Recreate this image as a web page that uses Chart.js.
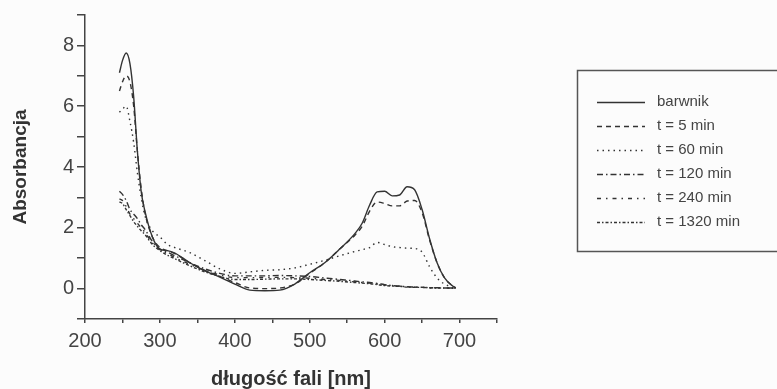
<!DOCTYPE html>
<html>
<head>
<meta charset="utf-8">
<script src="https://cdn.jsdelivr.net/npm/chart.js@4.4.0/dist/chart.umd.min.js"></script>
<style>
  html, body { margin: 0; padding: 0; background: #fcfcfc; }
  #wrap { width: 777px; height: 389px; }
</style>
</head>
<body>
<div id="wrap"><canvas id="graph" width="777" height="389"></canvas></div>
<script>
const wavelengths = [246, 250, 255, 260, 265, 270, 275, 280, 290, 300, 310, 320, 340, 360, 380, 400, 420, 440, 460, 480, 500, 520, 540, 560, 570, 580, 590, 600, 610, 620, 630, 640, 650, 660, 670, 680, 690, 695];

const barwnik = [7.1, 7.5, 7.75, 7.4, 6.3, 4.5, 3.2, 2.55, 1.7, 1.3, 1.25, 1.17, 0.85, 0.58, 0.38, 0.15, -0.05, -0.07, -0.05, 0.15, 0.52, 0.85, 1.3, 1.8, 2.15, 2.75, 3.18, 3.2, 3.05, 3.08, 3.35, 3.25, 2.6, 1.64, 0.85, 0.35, 0.1, 0.03];
const t5 = [6.5, 6.8, 7.0, 6.8, 6.0, 4.5, 3.3, 2.5, 1.7, 1.35, 1.25, 1.15, 0.85, 0.6, 0.4, 0.2, 0.02, 0.0, 0.02, 0.15, 0.5, 0.85, 1.3, 1.75, 2.05, 2.55, 2.85, 2.8, 2.72, 2.72, 2.88, 2.9, 2.5, 1.6, 0.85, 0.35, 0.1, 0.03];
const t60 = [5.8, 5.9, 6.0, 5.5, 4.8, 3.8, 3.0, 2.4, 1.9, 1.7, 1.45, 1.35, 1.18, 0.92, 0.65, 0.5, 0.55, 0.6, 0.62, 0.68, 0.8, 0.93, 1.08, 1.22, 1.28, 1.35, 1.52, 1.45, 1.38, 1.35, 1.33, 1.32, 1.2, 0.72, 0.35, 0.15, 0.05, 0.02];
const t120 = [3.2, 3.1, 2.9, 2.6, 2.45, 2.3, 2.1, 1.95, 1.55, 1.3, 1.2, 1.08, 0.85, 0.65, 0.5, 0.42, 0.42, 0.42, 0.43, 0.42, 0.4, 0.35, 0.3, 0.25, 0.22, 0.2, 0.17, 0.13, 0.1, 0.08, 0.06, 0.05, 0.04, 0.03, 0.03, 0.02, 0.02, 0.01];
const t240 = [2.95, 2.9, 2.7, 2.45, 2.3, 2.15, 2.0, 1.85, 1.5, 1.28, 1.15, 1.02, 0.8, 0.6, 0.45, 0.36, 0.36, 0.37, 0.37, 0.36, 0.34, 0.3, 0.27, 0.22, 0.2, 0.18, 0.15, 0.12, 0.1, 0.08, 0.06, 0.05, 0.04, 0.03, 0.03, 0.02, 0.02, 0.01];
const t1320 = [2.85, 2.8, 2.6, 2.4, 2.2, 2.05, 1.9, 1.78, 1.45, 1.25, 1.1, 0.98, 0.75, 0.55, 0.4, 0.3, 0.3, 0.31, 0.32, 0.32, 0.3, 0.27, 0.24, 0.2, 0.18, 0.16, 0.13, 0.1, 0.08, 0.07, 0.05, 0.04, 0.04, 0.03, 0.02, 0.02, 0.01, 0.01];

const seriesLabels = ['barwnik', 't = 5 min', 't = 60 min', 't = 120 min', 't = 240 min', 't = 1320 min'];
const series = [barwnik, t5, t60, t120, t240, t1320];
const dashes = [[], [5, 4], [1.5, 4], [6, 3, 1.5, 3], [4, 5, 1.5, 5], [3, 2, 1.5, 2]];

const ink = '#333';
const textInk = '#444';
const fontFamily = '"Liberation Sans", Arial, sans-serif';

const datasets = series.map((vals, i) => ({
  label: seriesLabels[i],
  data: vals.map((v, j) => ({ x: wavelengths[j], y: v })),
  borderColor: ink,
  borderWidth: 1.4,
  borderDash: dashes[i],
  pointRadius: 0,
  fill: false,
  cubicInterpolationMode: 'monotone'
}));

// legend box on the right, drawn from the dataset labels and styles
const boxLegend = {
  id: 'boxLegend',
  afterDraw(chart) {
    const c = chart.ctx;
    c.save();
    c.strokeStyle = '#555';
    c.lineWidth = 1.5;
    c.setLineDash([]);
    c.strokeRect(577.5, 70.5, 230, 181);
    chart.data.datasets.forEach((ds, i) => {
      const y = 102 + i * 24;
      c.strokeStyle = ink;
      c.lineWidth = 1.3;
      c.setLineDash(ds.borderDash);
      c.beginPath();
      c.moveTo(597, y + 0.5);
      c.lineTo(645, y + 0.5);
      c.stroke();
      c.setLineDash([]);
      c.fillStyle = textInk;
      c.font = '15px ' + fontFamily;
      c.textBaseline = 'middle';
      c.textAlign = 'left';
      c.fillText(ds.label, 657, y);
    });
    c.restore();
  }
};

const ctx = document.getElementById('graph').getContext('2d');

new Chart(ctx, {
  type: 'line',
  data: { datasets: datasets },
  options: {
    responsive: false,
    animation: false,
    layout: { padding: { left: 0, right: 280, top: 13, bottom: 0 } },
    plugins: { legend: { display: false }, tooltip: { enabled: false } },
    scales: {
      x: {
        type: 'linear',
        min: 200,
        max: 750,
        afterFit: (s) => { s.height = 70; },
        border: { display: true, color: '#444', width: 1.5 },
        grid: { drawOnChartArea: false, drawTicks: true, tickLength: 4, color: '#444', lineWidth: 1.5 },
        ticks: {
          stepSize: 50,
          autoSkip: false,
          maxRotation: 0,
          padding: 6,
          color: textInk,
          font: { family: fontFamily, size: 20 },
          callback: (v) => (v % 100 === 0 && v < 750) ? v : ''
        },
        title: {
          display: true,
          text: 'długość fali [nm]',
          color: '#333',
          padding: { top: 0, bottom: -2 },
          font: { family: fontFamily, size: 20, weight: 'bold' }
        }
      },
      y: {
        min: -1,
        max: 9,
        afterFit: (s) => { s.width = 85; },
        border: { display: true, color: '#444', width: 1.5 },
        grid: { drawOnChartArea: false, drawTicks: true, tickLength: 8, color: '#444', lineWidth: 1.5 },
        ticks: {
          stepSize: 1,
          autoSkip: false,
          padding: 3,
          color: textInk,
          font: { family: fontFamily, size: 20 },
          callback: (v) => (v >= 0 && v % 2 === 0) ? v : ''
        },
        title: {
          display: true,
          text: 'Absorbancja',
          color: '#333',
          padding: 9,
          font: { family: fontFamily, size: 19, weight: 'bold' }
        }
      }
    }
  },
  plugins: [boxLegend]
});
</script>
</body>
</html>
